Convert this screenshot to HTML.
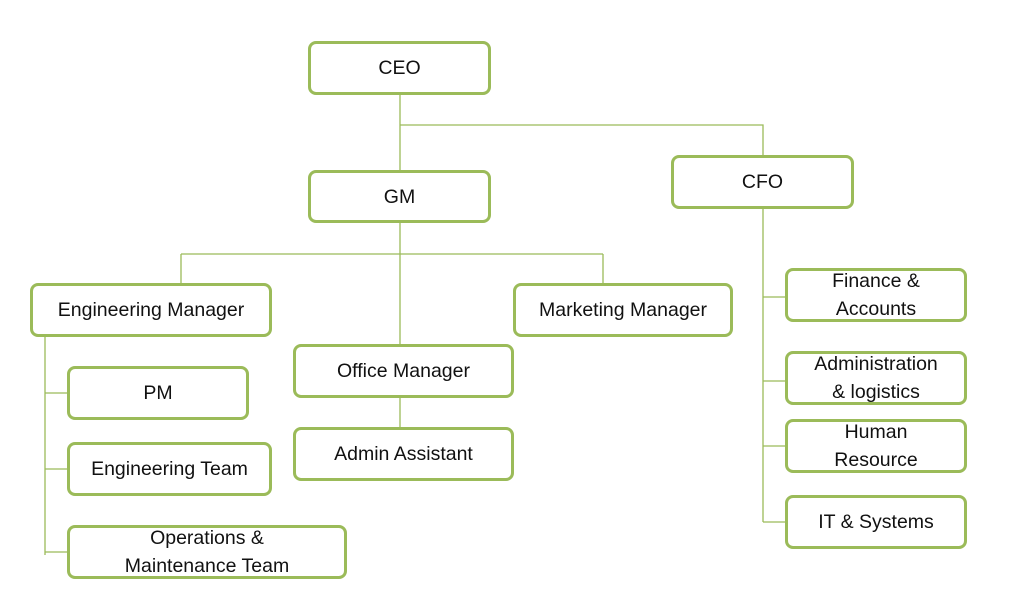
<!DOCTYPE html>
<html><head><meta charset="utf-8"><style>
body{margin:0;width:1022px;height:596px;background:#fff;position:relative;overflow:hidden;font-family:"Liberation Sans",sans-serif;}
.b{position:absolute;box-sizing:border-box;border:3px solid #9bbb59;border-radius:8px;background:#fff;display:flex;align-items:center;justify-content:center;text-align:center;font-size:19.5px;line-height:28px;color:#111;}
svg{position:absolute;left:0;top:0;}
</style></head><body>
<svg width="1022" height="596"><g stroke="#9bbb59" stroke-width="1.3" fill="none">
<path d="M400 95V170M400 125H763V155M400 223V344M181 254H603M181 254V283M603 254V283M400 398V427M45 337V555M45 393H67M45 469H67M45 552H67M763 209V522M763 297H785M763 381H785M763 446H785M763 522H785"/>
</g></svg>
<div class="b" style="left:308px;top:41px;width:183px;height:54px">CEO</div>
<div class="b" style="left:308px;top:170px;width:183px;height:53px">GM</div>
<div class="b" style="left:671px;top:155px;width:183px;height:54px">CFO</div>
<div class="b" style="left:30px;top:283px;width:242px;height:54px">Engineering Manager</div>
<div class="b" style="left:513px;top:283px;width:220px;height:54px">Marketing Manager</div>
<div class="b" style="left:293px;top:344px;width:221px;height:54px">Office Manager</div>
<div class="b" style="left:293px;top:427px;width:221px;height:54px">Admin Assistant</div>
<div class="b" style="left:67px;top:366px;width:182px;height:54px">PM</div>
<div class="b" style="left:67px;top:442px;width:205px;height:54px">Engineering Team</div>
<div class="b" style="left:67px;top:525px;width:280px;height:54px">Operations &amp;<br>Maintenance Team</div>
<div class="b" style="left:785px;top:268px;width:182px;height:54px">Finance &amp;<br>Accounts</div>
<div class="b" style="left:785px;top:351px;width:182px;height:54px">Administration<br>&amp; logistics</div>
<div class="b" style="left:785px;top:419px;width:182px;height:54px">Human<br>Resource</div>
<div class="b" style="left:785px;top:495px;width:182px;height:54px">IT &amp; Systems</div>
</body></html>
